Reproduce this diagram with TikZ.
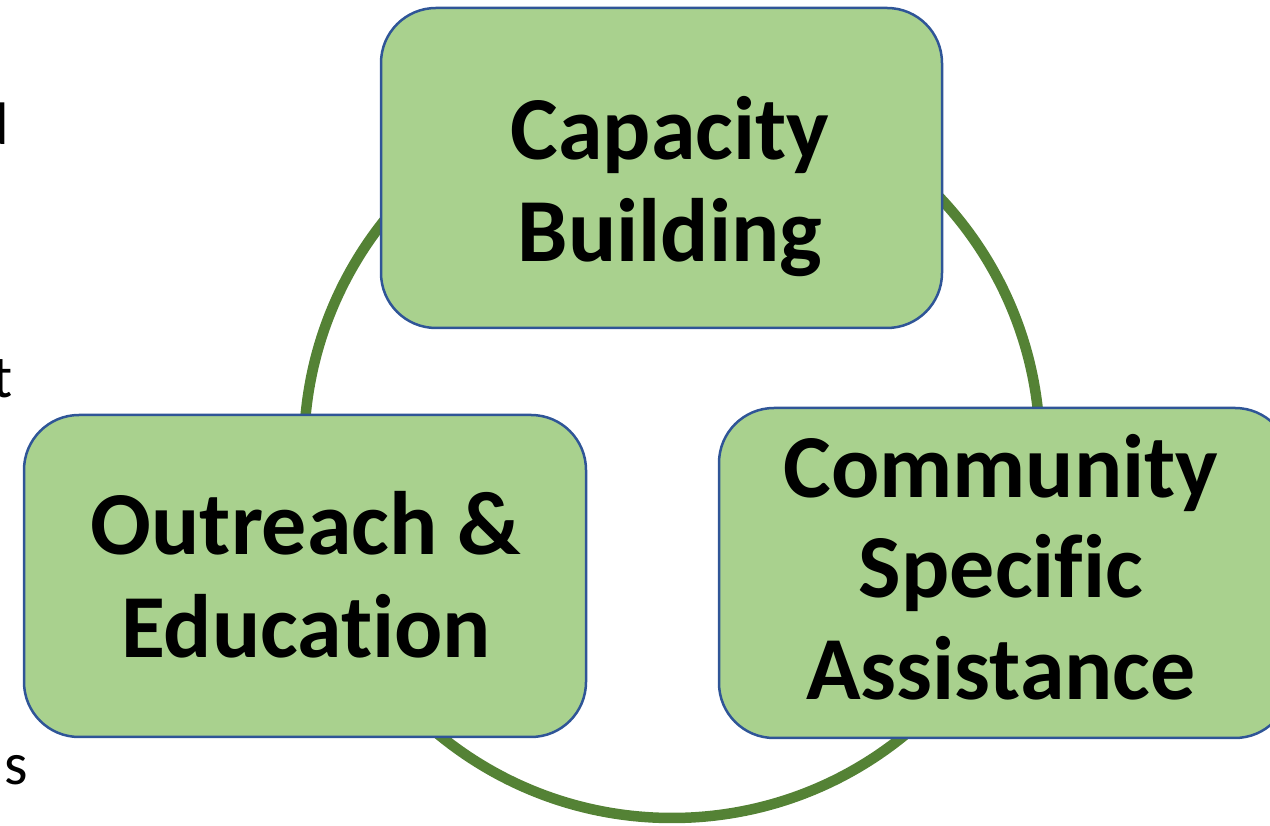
\documentclass[tikz,border=0pt]{standalone}
\usepackage{fontspec}
\setmainfont{Carlito}[Ligatures=NoCommon]
\definecolor{ringgreen}{HTML}{548235}
\definecolor{boxfill}{HTML}{A9D18E}
\definecolor{boxedge}{HTML}{2F5597}
\tikzset{
  ring/.style={draw=ringgreen, line width=10.5pt},
  greenbox/.style={draw=boxedge, fill=boxfill, line width=2.5pt, rounded corners=55pt},
  label/.style={font=\fontsize{90}{100}\selectfont\bfseries, anchor=base, inner sep=0pt},
  stray/.style={font=\fontsize{60}{66}\selectfont, anchor=base east, inner sep=0pt}
}
\begin{document}
\begin{tikzpicture}[x=1pt,y=1pt]
\useasboundingbox (0,0) rectangle (1270,826);
\clip (0,0) rectangle (1270,826);
% stray cut-off text at left edge
\node[stray] (s1) at (9,681) {d};
\node[stray] (s2) at (13,428) {t};
\node[stray] (s3) at (28,41) {ns};
% ring
\coordinate (c) at (672,376);
\draw[ring] (c) circle (368);
% boxes
\path[greenbox] (381,498) rectangle (942,818);
\path[greenbox] (24,89) rectangle (586,411);
\path[greenbox] (719,88) rectangle (1290,418);
\node (top) at (661.5,658) {};
\node (left) at (305,250) {};
\node (right) at (1004,253) {};
% texts
\node[label] (t1) at (670,666) {Capacity};
\node[label] (t2) at (670,564) {Building};
\node[label] (l1) at (306,271) {Outreach \&};
\node[label] (l2) at (306,168) {Education};
\node[label] (r1) at (1001,328) {Community};
\node[label] (r2) at (1001,228) {Specific};
\node[label] (r3) at (1001,126) {Assistance};
\end{tikzpicture}
\end{document}
